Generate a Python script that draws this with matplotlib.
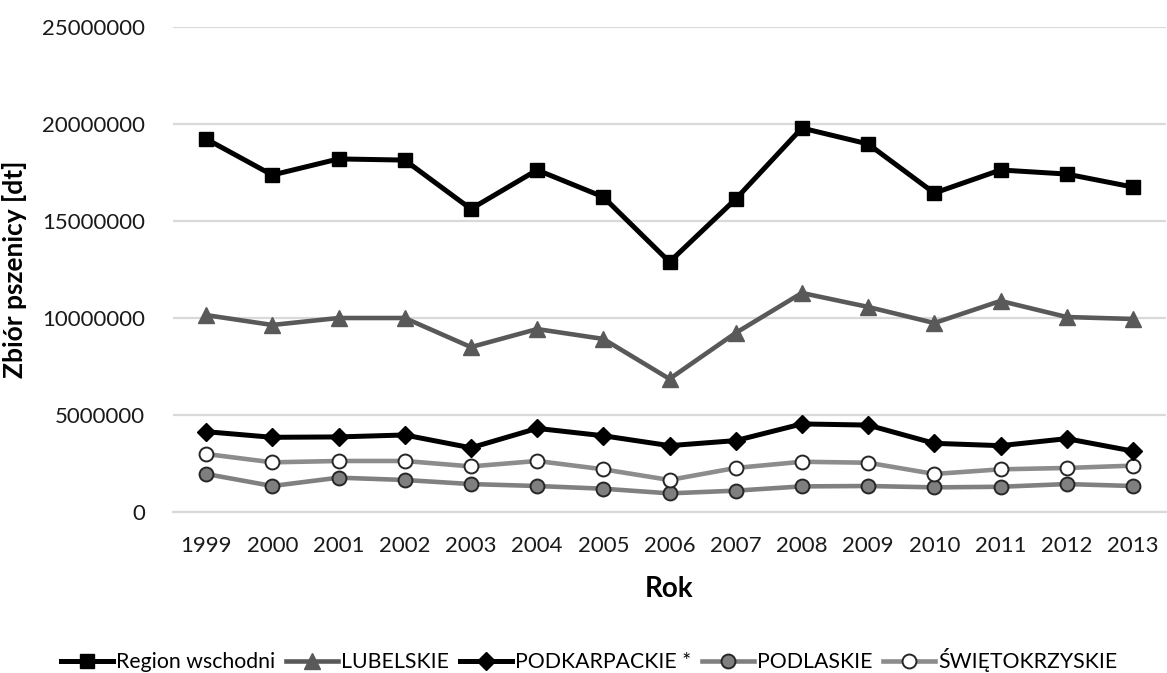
import matplotlib
matplotlib.use("Agg")
import matplotlib.pyplot as plt
from matplotlib.ticker import FuncFormatter

# Zbiór pszenicy w regionie wschodnim, 1999-2013 [dt]
lata = list(range(1999, 2014))

region_wschodni = [19230000, 17370000, 18200000, 18140000, 15620000, 17630000, 16240000,
                   12890000, 16130000, 19790000, 18970000, 16440000, 17630000, 17420000, 16750000]
lubelskie = [10150000, 9640000, 10000000, 10000000, 8500000, 9430000, 8920000,
             6860000, 9230000, 11290000, 10570000, 9740000, 10880000, 10050000, 9950000]
podkarpackie = [4140000, 3850000, 3870000, 3970000, 3310000, 4310000, 3930000,
                3420000, 3680000, 4540000, 4480000, 3540000, 3420000, 3780000, 3140000]
podlaskie = [1960000, 1340000, 1770000, 1650000, 1440000, 1340000, 1200000,
             960000, 1100000, 1320000, 1340000, 1270000, 1300000, 1440000, 1340000]
swietokrzyskie = [2990000, 2560000, 2630000, 2630000, 2350000, 2630000, 2200000,
                  1650000, 2270000, 2590000, 2540000, 1960000, 2200000, 2270000, 2390000]

plt.rcParams["font.family"] = ["Lato", "DejaVu Sans"]

fig = plt.figure(figsize=(11.67, 6.73), dpi=100)
ax = fig.add_axes([173 / 1167, 1 - 512 / 673, 993 / 1167, 485 / 673])

x = list(range(len(lata)))

ax.plot(x, region_wschodni, color="black", linewidth=3.6, marker="s",
        markersize=10.5, markerfacecolor="black", markeredgecolor="black",
        label="Region wschodni", zorder=5)
ax.plot(x, lubelskie, color="#595959", linewidth=3.3, marker="^",
        markersize=12, markerfacecolor="#595959", markeredgecolor="#595959",
        label="LUBELSKIE", zorder=4)
ax.plot(x, podkarpackie, color="black", linewidth=3.6, marker="D",
        markersize=9, markerfacecolor="black", markeredgecolor="black",
        label="PODKARPACKIE *", zorder=5)
ax.plot(x, podlaskie, color="#808080", linewidth=3.3, marker="o",
        markersize=10, markerfacecolor="#7f7f7f", markeredgecolor="#262626",
        markeredgewidth=1.4, label="PODLASKIE", zorder=3)
ax.plot(x, swietokrzyskie, color="#8c8c8c", linewidth=3.3, marker="o",
        markersize=10, markerfacecolor="white", markeredgecolor="#262626",
        markeredgewidth=1.4, label="ŚWIĘTOKRZYSKIE", zorder=3)

ax.set_xlim(-0.5, len(lata) - 0.5)
ax.set_ylim(0, 25000000)
ax.set_yticks(range(0, 25000001, 5000000))
ax.yaxis.set_major_formatter(FuncFormatter(lambda v, p: f"{int(v)}"))
ax.set_xticks(x)
ax.set_xticklabels([str(r) for r in lata])

ax.grid(axis="y", color="#d9d9d9", linewidth=1.6)
ax.set_axisbelow(True)
for nazwa in ["top", "right", "left"]:
    ax.spines[nazwa].set_visible(False)
ax.spines["bottom"].set_color("#d9d9d9")
ax.spines["bottom"].set_linewidth(1.6)
ax.tick_params(axis="both", length=0, labelsize=16, labelcolor="#1a1a1a")
ax.tick_params(axis="y", pad=20)
ax.tick_params(axis="x", pad=17)

ax.set_ylabel("Zbiór pszenicy [dt]", fontsize=19, fontweight="bold")
ax.yaxis.set_label_coords(-0.147, 0.5)
ax.set_xlabel("Rok", fontsize=20, fontweight="bold", labelpad=15)

fig.legend(loc="center", bbox_to_anchor=(0.505, 1 - 660 / 673), ncol=5,
           frameon=False, fontsize=15.3, handlelength=2.45, handletextpad=0.15,
           columnspacing=0.5)

fig.savefig("out.png", dpi=100)
